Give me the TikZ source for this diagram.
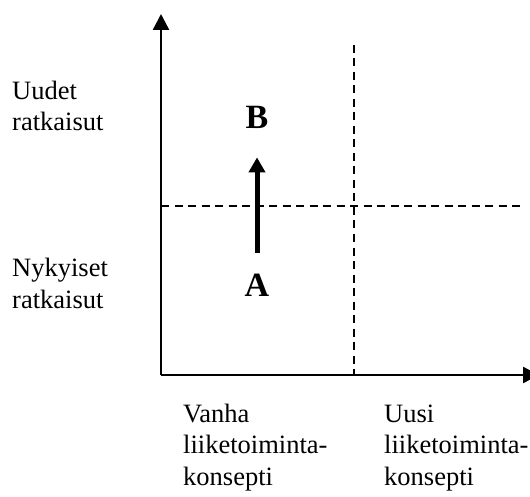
\documentclass[tikz,border=0pt]{standalone}
\usepackage{fontspec}
\setmainfont{Liberation Serif}
\usetikzlibrary{arrows.meta}
\begin{document}
\begin{tikzpicture}[x=1pt,y=-1pt,
  axis/.style={line width=2.4pt,-{Triangle[length=16pt,width=16pt]}},
  gridline/.style={line width=1.4pt,dash pattern=on 8pt off 5.5pt},
  lbl/.style={font=\fontsize{26.5}{31.5}\selectfont,align=left,anchor=base west,inner sep=0pt},
  letter/.style={font=\fontsize{34}{40}\selectfont\bfseries,inner sep=0pt},
  move/.style={line width=5pt,-{Triangle[length=15pt,width=16pt]}}]
\useasboundingbox (0,0) rectangle (530,497);
% axes
\coordinate (O) at (161,375);
\coordinate (ytop) at (161,14);
\coordinate (xend) at (539,375);
\draw[axis] (O) -- (ytop);
\draw[axis] (O) -- (xend);
% quadrant dividers
\coordinate (vtop) at (354,45);
\coordinate (vbot) at (354,375);
\coordinate (hleft) at (161,206);
\coordinate (hright) at (525,206);
\draw[gridline] (vtop) -- (vbot);
\draw[gridline] (hleft) -- (hright);
% axis labels (anchored at the baseline of the last line)
\node[lbl] (uudet) at (12,131) {Uudet\\ratkaisut};
\node[lbl] (nyky) at (12,308) {Nykyiset\\ratkaisut};
\node[lbl] (vanha) at (183,485) {Vanha\\liiketoiminta-\\konsepti};
\node[lbl] (uusi) at (384,485) {Uusi\\liiketoiminta-\\konsepti};
% movement from A to B
\node[letter] (B) at (257,117) {B};
\node[letter] (A) at (257,285) {A};
\draw[move,shorten <=20.5pt,shorten >=29pt] (A.north) -- (B.south);
\end{tikzpicture}
\end{document}
